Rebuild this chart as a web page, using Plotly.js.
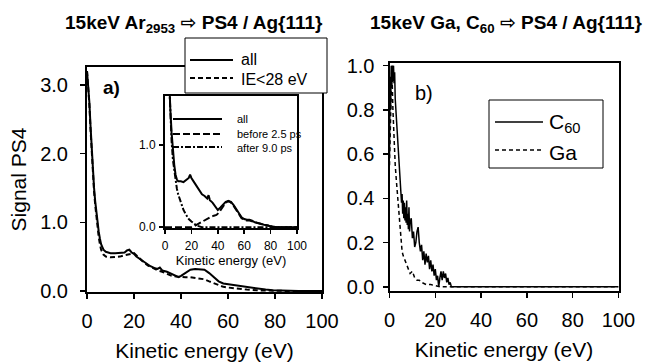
<!DOCTYPE html>
<html>
<head>
<meta charset="utf-8">
<script src="https://cdn.plot.ly/plotly-3.0.1.min.js"></script>
<style>html,body{margin:0;padding:0;background:#fff;}#chart{width:654px;height:364px;}</style>
</head>
<body>
<div id="chart"></div>
<script>
// ---------- Panel a) main curves ----------
var mainAllX = [0,0.5,1,1.5,2,2.5,3,3.5,4,4.5,5,5.5,6,7,8,9,10,12,14,16,17,18,19,20,21,23,25,27,29,30,31,32,34,36,38,39,40,42,44,46,48,50,52,54,56,58,60,62,65,68,70,73,76,79,82,85,90,95,100];
var mainAllY = [3.2,3.0,2.75,2.4,2.05,1.75,1.5,1.3,1.12,0.97,0.86,0.76,0.68,0.6,0.57,0.56,0.55,0.55,0.55,0.56,0.59,0.6,0.56,0.54,0.5,0.45,0.4,0.36,0.33,0.32,0.34,0.3,0.28,0.25,0.21,0.2,0.22,0.27,0.31,0.32,0.32,0.31,0.26,0.2,0.14,0.11,0.1,0.09,0.07,0.05,0.04,0.03,0.02,0.01,0.005,0,0,0,0];
var mainIEX = [0,0.5,1,1.5,2,2.5,3,3.5,4,4.5,5,5.5,6,7,8,10,12,14,16,18,20,22,24,26,28,30,32,34,36,38,40,42,44,46,48,50,52,54,56,58,60,62,65,68,72,76,80,85,90,100];
var mainIEY = [3.2,3.0,2.72,2.35,2.0,1.7,1.45,1.25,1.06,0.9,0.78,0.68,0.6,0.53,0.5,0.49,0.49,0.5,0.52,0.54,0.55,0.49,0.42,0.37,0.33,0.3,0.28,0.25,0.22,0.21,0.2,0.2,0.2,0.19,0.18,0.17,0.14,0.11,0.08,0.06,0.05,0.04,0.03,0.02,0.01,0.005,0,0,0,0];

// ---------- Panel a) inset ----------
var insetAllX = [0,2,3,4,5,6,7,8,9,10,12,14,16,18,19,20,22,24,26,28,30,32,33,34,36,38,40,42,44,46,48,50,52,54,56,58,60,62,64,66,68,70,72,75,78,80,85,90,100];
var insetAllY = [3.2,2.2,1.75,1.45,1.15,0.92,0.76,0.64,0.58,0.56,0.56,0.55,0.57,0.6,0.64,0.6,0.55,0.5,0.45,0.4,0.38,0.35,0.39,0.33,0.3,0.25,0.21,0.24,0.28,0.31,0.32,0.31,0.27,0.22,0.16,0.12,0.1,0.09,0.09,0.08,0.06,0.05,0.04,0.03,0.02,0.01,0,0,0];
var insetEarlyX = [0,5,10,15,18,20,22,25,28,31,34,37,39,41,43,44,46,48,50,52,54,56,58,60,62,64,66,68,70,72,75,78,80,85,90,100];
var insetEarlyY = [0,0,0,0,0,0,0.01,0.04,0.07,0.1,0.12,0.14,0.15,0.18,0.23,0.26,0.3,0.32,0.3,0.26,0.21,0.15,0.11,0.09,0.08,0.08,0.07,0.06,0.05,0.04,0.03,0.02,0.01,0,0,0];
var insetLateX = [0,2,3,4,5,6,7,8,9,10,12,14,16,18,20,22,24,26,28,30,40,60,80,100];
var insetLateY = [3.0,2.2,1.75,1.4,1.05,0.82,0.68,0.56,0.47,0.4,0.3,0.21,0.15,0.1,0.07,0.04,0.02,0.01,0,0,0,0,0,0];

// ---------- Panel b) ----------
var c60X = [0,0.25,0.5,0.75,1,1.25,1.5,1.75,2,2.25,2.5,3,3.5,4,4.5,5,5.25,5.5,5.75,6,6.25,6.5,6.75,7,7.25,7.5,7.75,8,8.25,8.5,8.75,9,9.5,10,10.5,11,11.5,12,12.5,13,13.5,14,14.5,15,15.5,16,16.5,17,17.5,18,18.5,19,19.5,20,20.5,21,21.5,22,22.5,23,23.5,24,24.5,25,25.5,26,26.5,27,28,40,60,80,100];
var c60Y = [0.6,0.95,0.8,1.0,0.9,1.0,0.93,1.0,0.92,0.97,0.85,0.77,0.7,0.6,0.52,0.44,0.38,0.42,0.33,0.39,0.31,0.38,0.3,0.36,0.29,0.39,0.28,0.33,0.26,0.36,0.25,0.29,0.31,0.22,0.25,0.18,0.2,0.25,0.27,0.2,0.16,0.19,0.12,0.16,0.1,0.15,0.11,0.14,0.08,0.12,0.07,0.1,0.05,0.08,0.03,0.05,0.0,0.04,0.07,0.03,0.07,0.04,0.06,0.02,0.04,0.01,0.02,0,0,0,0,0,0];
var gaX = [0,0.5,1,1.5,2,2.5,3,3.5,4,4.5,5,5.5,6,7,8,9,10,11,12,13,14,16,18,20,22,24,26,40,60,80,100];
var gaY = [0.55,0.85,1.0,0.8,0.62,0.55,0.48,0.42,0.34,0.27,0.2,0.16,0.14,0.11,0.08,0.06,0.07,0.04,0.03,0.03,0.02,0.01,0.01,0.005,0,0,0,0,0,0,0];

var xTicks = [0,20,40,60,80,100];
var yTicksA = [0,1,2,3];
var yTicksInset = [0,1];
var yTicksB = [0,0.2,0.4,0.6,0.8,1.0];

var FONT = 'Liberation Sans, Arial, DejaVu Sans, sans-serif';
var W = 654, H = 364;
function px(x){return x/W;}
function py(y){return 1-y/H;}

var traces = [
  {x:mainAllX,y:mainAllY,xaxis:'x',yaxis:'y',mode:'lines',line:{color:'#000',width:2},name:'all'},
  {x:mainIEX,y:mainIEY,xaxis:'x',yaxis:'y',mode:'lines',line:{color:'#000',width:2,dash:'5px,3px'},name:'IE<28 eV'},
  {x:insetAllX,y:insetAllY,xaxis:'x2',yaxis:'y2',mode:'lines',line:{color:'#000',width:2},name:'all'},
  {x:insetEarlyX,y:insetEarlyY,xaxis:'x2',yaxis:'y2',mode:'lines',line:{color:'#000',width:2,dash:'7px,3px'},name:'before 2.5 ps'},
  {x:insetLateX,y:insetLateY,xaxis:'x2',yaxis:'y2',mode:'lines',line:{color:'#000',width:2,dash:'6px,2px,2px,2px'},name:'after 9.0 ps'},
  {x:c60X,y:c60Y,xaxis:'x3',yaxis:'y3',mode:'lines',line:{color:'#000',width:1.5},name:'C60'},
  {x:gaX,y:gaY,xaxis:'x3',yaxis:'y3',mode:'lines',line:{color:'#000',width:1.5,dash:'4px,3px'},name:'Ga'}
];

function axisBase(extra){
  var a = {showline:true,mirror:true,linecolor:'#000',linewidth:2,showgrid:false,zeroline:false,
    ticks:'outside',ticklen:5,tickwidth:1.5,tickcolor:'#000',fixedrange:true,automargin:false,
    tickfont:{family:FONT,size:20,color:'#000'}};
  for (var k in extra) a[k]=extra[k];
  return a;
}

var layout = {
  width:W,height:H,margin:{l:0,r:0,t:0,b:0},paper_bgcolor:'#fff',plot_bgcolor:'rgba(0,0,0,0)',
  showlegend:false,
  font:{family:FONT,color:'#000'},
  xaxis:axisBase({domain:[px(87),px(322)],range:[0,100],tickvals:xTicks,ticklabelstandoff:5,
    title:{text:'Kinetic energy (eV)',font:{family:FONT,size:21,color:'#000'},standoff:12}}),
  yaxis:axisBase({domain:[py(292),py(67)],range:[-0.015,3.26],tickvals:yTicksA,tickformat:'.1f',ticklabelstandoff:8,
    title:{text:'Signal PS4',font:{family:FONT,size:21,color:'#000'},standoff:8}}),
  xaxis2:axisBase({domain:[px(165),px(297)],range:[0,100],tickvals:xTicks,ticklen:4,linewidth:2,anchor:'y2',
    tickfont:{family:FONT,size:12,color:'#000'},ticklabelstandoff:2,
    title:{text:'Kinetic energy (eV)',font:{family:FONT,size:13,color:'#000'},standoff:2}}),
  yaxis2:axisBase({domain:[py(228),py(96)],range:[-0.01,1.6],tickvals:yTicksInset,tickformat:'.1f',ticklen:4,anchor:'x2',
    tickfont:{family:FONT,size:12,color:'#000'},ticklabelstandoff:1}),
  xaxis3:axisBase({domain:[px(389.5),px(618.5)],range:[0,100],tickvals:xTicks,anchor:'y3',ticklabelstandoff:5,
    title:{text:'Kinetic energy (eV)',font:{family:FONT,size:21,color:'#000'},standoff:12}}),
  yaxis3:axisBase({domain:[py(291),py(63)],range:[-0.019,1.012],tickvals:yTicksB,tickformat:'.1f',anchor:'x3',ticklabelstandoff:4}),
  shapes:[
    {type:'rect',xref:'paper',yref:'paper',x0:px(165),x1:px(297),y0:py(228),y1:py(96),fillcolor:'#fff',line:{width:0},layer:'below'},
    {type:'rect',xref:'paper',yref:'paper',x0:px(185),x1:px(327),y0:py(93),y1:py(38),fillcolor:'#fff',line:{color:'#000',width:1}},
    {type:'line',xref:'paper',yref:'paper',x0:px(190),x1:px(233),y0:py(60),y1:py(60),line:{color:'#000',width:2}},
    {type:'line',xref:'paper',yref:'paper',x0:px(190),x1:px(233),y0:py(78),y1:py(78),line:{color:'#000',width:2,dash:'5px,3px'}},
    {type:'line',xref:'paper',yref:'paper',x0:px(173),x1:px(222),y0:py(119),y1:py(119),line:{color:'#000',width:2}},
    {type:'line',xref:'paper',yref:'paper',x0:px(173),x1:px(222),y0:py(134),y1:py(134),line:{color:'#000',width:2,dash:'7px,3px'}},
    {type:'line',xref:'paper',yref:'paper',x0:px(173),x1:px(222),y0:py(147),y1:py(147),line:{color:'#000',width:2,dash:'6px,2px,2px,2px'}},
    {type:'rect',xref:'paper',yref:'paper',x0:px(489),x1:px(603),y0:py(168),y1:py(100),fillcolor:'#fff',line:{color:'#000',width:1}},
    {type:'line',xref:'paper',yref:'paper',x0:px(495),x1:px(543),y0:py(122),y1:py(122),line:{color:'#000',width:1.5}},
    {type:'line',xref:'paper',yref:'paper',x0:px(495),x1:px(543),y0:py(150),y1:py(150),line:{color:'#000',width:1.5,dash:'4px,3px'}}
  ],
  annotations:[
    {text:'<b>15keV Ar<sub>2953</sub> ⇨ PS4 / Ag{111}</b>',xref:'paper',yref:'paper',x:px(194),y:py(24),xanchor:'center',yanchor:'middle',showarrow:false,font:{family:FONT,size:19,color:'#000'}},
    {text:'<b>15keV Ga, C<sub>60</sub> ⇨ PS4 / Ag{111}</b>',xref:'paper',yref:'paper',x:px(506),y:py(24),xanchor:'center',yanchor:'middle',showarrow:false,font:{family:FONT,size:19,color:'#000'}},
    {text:'<b>a)</b>',xref:'paper',yref:'paper',x:px(101),y:py(87),xanchor:'left',yanchor:'middle',showarrow:false,font:{family:FONT,size:19,color:'#000'}},
    {text:'b)',xref:'paper',yref:'paper',x:px(413),y:py(93),xanchor:'left',yanchor:'middle',showarrow:false,font:{family:FONT,size:20,color:'#000'}},
    {text:'all',xref:'paper',yref:'paper',x:px(240),y:py(60),xanchor:'left',yanchor:'middle',showarrow:false,borderpad:0,font:{family:FONT,size:16,color:'#000'}},
    {text:'IE<28 eV',xref:'paper',yref:'paper',x:px(240),y:py(79),xanchor:'left',yanchor:'middle',showarrow:false,borderpad:0,font:{family:FONT,size:16,color:'#000'}},
    {text:'all',xref:'paper',yref:'paper',x:px(236),y:py(119),xanchor:'left',yanchor:'middle',showarrow:false,borderpad:0,font:{family:FONT,size:11,color:'#000'}},
    {text:'before 2.5 ps',xref:'paper',yref:'paper',x:px(236),y:py(134),xanchor:'left',yanchor:'middle',showarrow:false,borderpad:0,font:{family:FONT,size:11,color:'#000'}},
    {text:'after 9.0 ps',xref:'paper',yref:'paper',x:px(236),y:py(148),xanchor:'left',yanchor:'middle',showarrow:false,borderpad:0,font:{family:FONT,size:11,color:'#000'}},
    {text:'C<sub>60</sub>',xref:'paper',yref:'paper',x:px(547),y:py(123),xanchor:'left',yanchor:'middle',showarrow:false,font:{family:FONT,size:21,color:'#000'}},
    {text:'Ga',xref:'paper',yref:'paper',x:px(547),y:py(152),xanchor:'left',yanchor:'middle',showarrow:false,font:{family:FONT,size:21,color:'#000'}}
  ]
};

Plotly.newPlot('chart',traces,layout,{displayModeBar:false,staticPlot:true});
</script>
</body>
</html>
